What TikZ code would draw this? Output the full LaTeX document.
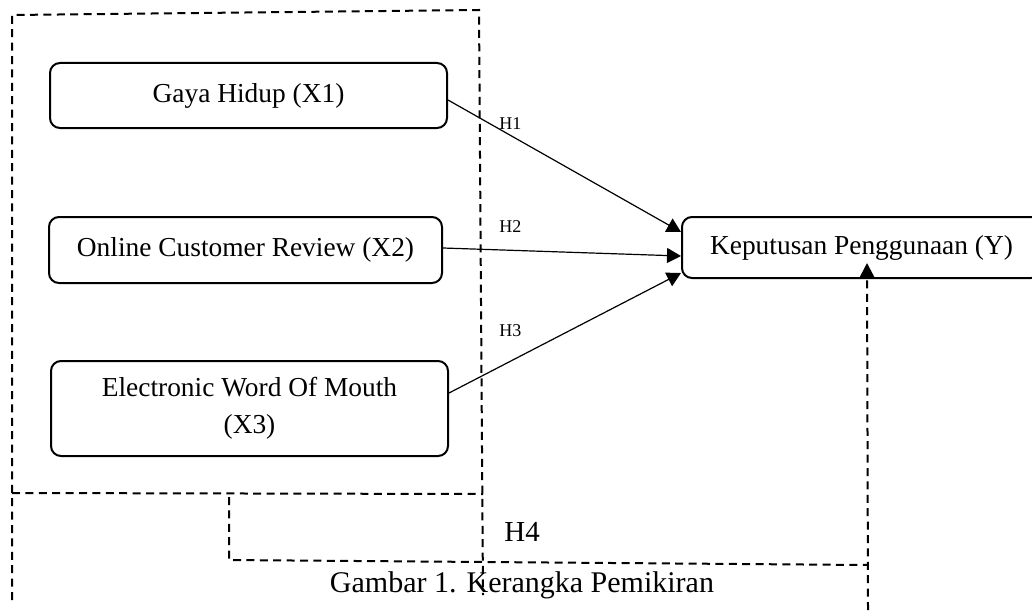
\documentclass[tikz,border=0pt]{standalone}
\usepackage{fontspec}
\setmainfont{Liberation Serif}
\usetikzlibrary{arrows.meta}
\begin{document}
\begin{tikzpicture}[x=0.5pt,y=-0.5pt,
  varbox/.style={draw,line width=1pt,rounded corners=5pt,inner sep=0pt,align=center,
    font=\fontsize{13.7}{18.5}\selectfont},
  arr/.style={line width=0.6pt,-{Triangle[length=7pt,width=7.5pt]}},
  dline/.style={line width=1pt,dash pattern=on 4pt off 2.7pt},
  hlab/.style={font=\fontsize{9}{10}\selectfont,anchor=base west,inner sep=0pt},
]
\useasboundingbox (0,0) rectangle (1032,610);
\clip (0,0) rectangle (1032,610);
% boxes
\node[varbox,minimum width=198.5pt,minimum height=32.5pt] (gaya) at (248.5,95.5) {\raisebox{-1pt}{Gaya Hidup (X1)}};
\node[varbox,minimum width=196.5pt,minimum height=33pt] (ocr) at (245.5,250) {\raisebox{-1pt}{Online Customer Review (X2)}};
\node[varbox,minimum width=198.5pt,minimum height=47.5pt] (ewom) at (249.5,408.5) {Electronic Word Of Mouth\\(X3)};
\node[varbox,minimum width=179.5pt,minimum height=30.5pt] (ky) at (861.5,247.5) {\raisebox{-1pt}{Keputusan Penggunaan (Y)}};
% arrows
\draw[arr] ([yshift=-2.25pt]gaya.east) -- ([yshift=7.75pt]ky.west);
\draw[arr] ([yshift=1pt]ocr.east) -- ([yshift=-4.25pt]ky.west);
\draw[arr] ([yshift=7.75pt]ewom.east) -- ([yshift=-12.75pt]ky.west);
% labels
\node[hlab] (h1) at (499,129) {H1};
\node[hlab] (h2) at (499,232) {H2};
\node[hlab] (h3) at (499,336) {H3};
\node[font=\fontsize{14.5}{16}\selectfont,anchor=base west,inner sep=0pt] (h4) at (504,541) {H4};
\node[font=\fontsize{15}{17}\selectfont,anchor=base,inner sep=0pt] (cap) at (522,592) {Gambar 1. Kerangka Pemikiran};
% dashed frame
\coordinate (ob) at (12,600);
\coordinate (otl) at (12,15);
\coordinate (otr) at (479,10);
\coordinate (orb) at (483,595);
\coordinate (ml) at (12,493);
\coordinate (mr) at (483,494);
\coordinate (it) at (229,497);
\coordinate (ib) at (229,560);
\coordinate (ir) at (868,565);
\coordinate (vb) at (868,610);
\draw[dline] (ob) -- (otl) -- (otr) -- (orb);
\draw[dline] (ml) -- (mr);
\draw[dline] (it) -- (ib) -- (ir);
\draw[dline,-{Triangle[length=7pt,width=7pt]}] (vb) -- ([xshift=2.75pt,yshift=8pt]ky.south);
\end{tikzpicture}
\end{document}
